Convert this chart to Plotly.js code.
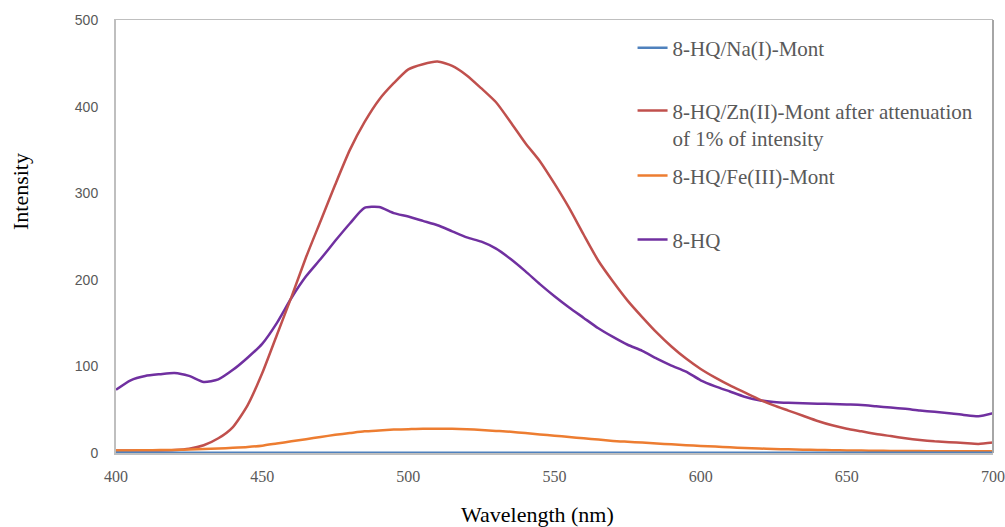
<!DOCTYPE html>
<html>
<head>
<meta charset="utf-8">
<script src="https://cdn.plot.ly/plotly-3.0.1.min.js"></script>
<style>html,body{margin:0;padding:0;background:#fff;}#chart{width:1005px;height:527px;}</style>
</head>
<body>
<div id="chart"></div>
<script>
// Wavelength (nm), 5 nm steps
var wavelength = [400,405,410,415,420,425,430,435,440,445,450,455,460,465,470,475,480,485,490,495,500,505,510,515,520,525,530,535,540,545,550,555,560,565,570,575,580,585,590,595,600,605,610,615,620,625,630,635,640,645,650,655,660,665,670,675,680,685,690,695,700];

var naMont = [0.3,0.3,0.3,0.3,0.3,0.3,0.3,0.3,0.3,0.3,0.3,0.3,0.3,0.3,0.3,0.3,0.3,0.3,0.3,0.3,0.3,0.3,0.3,0.3,0.3,0.3,0.3,0.3,0.3,0.3,0.3,0.3,0.3,0.3,0.3,0.3,0.3,0.3,0.3,0.3,0.3,0.3,0.3,0.3,0.3,0.3,0.3,0.3,0.3,0.3,0.3,0.3,0.3,0.3,0.3,0.3,0.3,0.3,0.3,0.3,0.3];

var znMont = [3,3,3,3,3.5,5,9,17,30,55,92,136,180,226,268,310,350,382,408,427,443,449,452,447,436,421,405,382,358,337,311,283,252,222,198,176,157,139,123,109,97,87,78,70,62,55,49,43,37,32,28,25,22,19.5,17,15,13.5,12.5,11.5,10.5,12];

var feMont = [3,3,3.2,3.4,3.6,4,4.5,5.2,6,7,8.5,11,13.5,16,18.5,21,23,25,26,27,27.5,28,28,28,27.5,26.5,25.5,24.5,23,21.5,20,18.5,17,15.5,14,13,12,11,10,9,8.2,7.4,6.6,5.8,5.2,4.7,4.2,3.8,3.5,3.2,3,2.8,2.6,2.4,2.3,2.2,2.1,2,2,2,2];

var hq = [73,84,89,91,92.5,89,82,85,96,110,126,150,179,204,224,245,265,283,284,277,273,268,263,256,249,244,236,224,210,195,181,168,156,144,134,125,118,109,101,94,84,77,71,65,61,59,58,57.5,57,56.5,56,55.5,54,52.5,51,49,47.5,46,44,42.5,46];

var seriesNames = ["8-HQ/Na(I)-Mont", "8-HQ/Zn(II)-Mont after attenuation<br>of 1% of intensity", "8-HQ/Fe(III)-Mont", "8-HQ"];
var xTickVals = [400,450,500,550,600,650,700];
var yTickVals = [0,100,200,300,400,500];

var serif = 'Liberation Serif';
var lw = 2.5;
var traces = [
  {x: wavelength, y: hq, name: seriesNames[3], mode: 'lines', line: {color: '#7030A0', width: lw, shape: 'spline', smoothing: 0.6}, legend: 'legend4'},
  {x: wavelength, y: znMont, name: seriesNames[1], mode: 'lines', line: {color: '#C0504D', width: lw, shape: 'spline', smoothing: 0.6}, legend: 'legend2'},
  {x: wavelength, y: feMont, name: seriesNames[2], mode: 'lines', line: {color: '#ED7D31', width: lw, shape: 'spline', smoothing: 0.6}, legend: 'legend3'},
  {x: wavelength, y: naMont, name: seriesNames[0], mode: 'lines', line: {color: '#4F81BD', width: lw}, legend: 'legend'}
];

var legFont = {family: serif, size: 21, color: '#595959'};
function leg(y) {
  return {x: 0.589, y: y, xanchor: 'left', yanchor: 'middle', font: legFont, bgcolor: 'rgba(0,0,0,0)', valign: 'top', itemclick: false};
}

var layout = {
  width: 1005, height: 527,
  margin: {l: 116, r: 12, t: 20, b: 74},
  paper_bgcolor: '#fff', plot_bgcolor: '#fff',
  showlegend: true,
  legend: leg(0.935),
  legend2: leg(0.759),
  legend3: leg(0.640),
  legend4: leg(0.492),
  xaxis: {
    range: [400, 700], tickvals: xTickVals, ticks: '', showgrid: false, zeroline: false,
    showline: true, linecolor: '#bfbfbf', linewidth: 1.5, mirror: true,
    ticklabelstandoff: 8,
    tickfont: {family: serif, size: 16, color: '#595959'}
  },
  yaxis: {
    range: [0, 500], tickvals: yTickVals, ticks: '', showgrid: false, zeroline: false,
    showline: true, linecolor: '#bfbfbf', linewidth: 2, mirror: false,
    ticklabelstandoff: 13,
    tickfont: {family: 'Liberation Sans', size: 14, color: '#595959'}
  },
  shapes: [
    {type: 'line', xref: 'paper', yref: 'paper', x0: 1, x1: 1, y0: 0, y1: 1, line: {color: '#a6a6a6', width: 2}}
  ],
  annotations: [
    {text: 'Intensity', xref: 'paper', yref: 'paper', x: -0.1095, y: 0.605, textangle: -90, showarrow: false, xanchor: 'center', yanchor: 'middle',
     font: {family: serif, size: 22, color: '#000'}},
    {text: 'Wavelength (nm)', xref: 'paper', yref: 'paper', x: 0.481, y: -0.141, showarrow: false, xanchor: 'center', yanchor: 'middle',
     font: {family: serif, size: 22, color: '#000'}}
  ]
};

Plotly.newPlot('chart', traces, layout, {staticPlot: true, displayModeBar: false});
</script>
</body>
</html>
